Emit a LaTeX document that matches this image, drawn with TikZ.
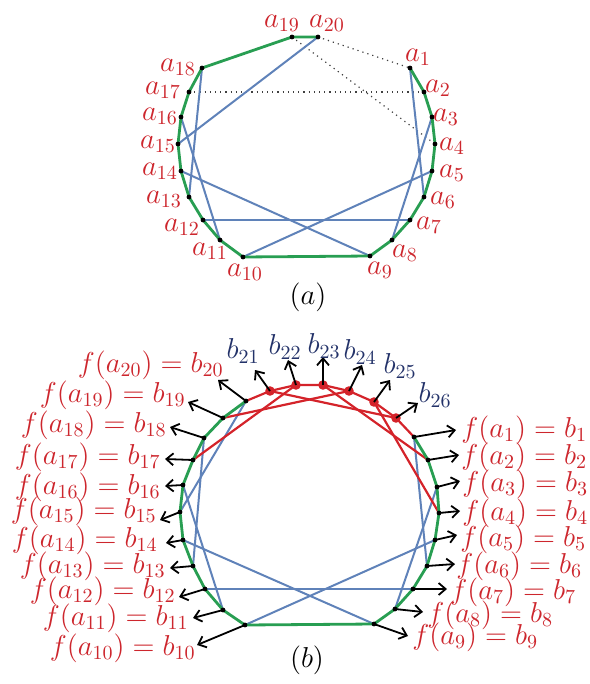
\documentclass[tikz,border=0pt]{standalone}
\usepackage{amsmath,amssymb}
\usepackage{xcolor}
\usetikzlibrary{arrows.meta,calc}

\definecolor{labred}{RGB}{205,38,45}
\definecolor{labblue}{RGB}{35,50,105}
\definecolor{ringgreen}{RGB}{40,158,82}
\definecolor{chordblue}{RGB}{95,130,185}
\definecolor{newred}{RGB}{212,35,42}

\begin{document}
\begin{tikzpicture}[x=0.5pt,y=-0.5pt,
  greenring/.style={ringgreen,line width=1.4pt},
  bluechord/.style={chordblue,line width=1pt},
  redchord/.style={newred,line width=1.1pt},
  dotchord/.style={black!75,dotted,line width=0.6pt},
  maparrow/.style={-{Straight Barb[length=3.5pt,width=6pt]},line width=0.9pt},
  alab/.style={text=labred,font=\fontsize{14}{16}\selectfont,inner sep=0pt},
  blab/.style={text=labblue,font=\fontsize{14}{16}\selectfont,inner sep=0pt}]
\useasboundingbox (0,0) rectangle (589,684);

% (a) the ring a_1 ... a_20
\coordinate (a1) at (410,68);
\coordinate (a2) at (424,92);
\coordinate (a3) at (432,117);
\coordinate (a4) at (435,144);
\coordinate (a5) at (432,171);
\coordinate (a6) at (424,197);
\coordinate (a7) at (410,220);
\coordinate (a8) at (392,240);
\coordinate (a9) at (370,256);
\coordinate (a10) at (243,257);
\coordinate (a11) at (220,240);
\coordinate (a12) at (203,220);
\coordinate (a13) at (189,197);
\coordinate (a14) at (181,171);
\coordinate (a15) at (178,144);
\coordinate (a16) at (181,117);
\coordinate (a17) at (189,92);
\coordinate (a18) at (202,68);
\coordinate (a19) at (292,37);
\coordinate (a20) at (318,37);

\draw[dotchord] (a20) -- (a1);
\draw[dotchord] (a19) -- (a4);
\draw[dotchord] (a17) -- (a2);
\foreach \i/\j in {1/6,3/8,5/10,7/12,9/14,11/16,13/18,15/20}
  \draw[bluechord] (a\i) -- (a\j);
\draw[greenring] (a1) \foreach \i in {2,...,20} {-- (a\i)};
\foreach \i in {1,...,20} \fill (a\i) circle (1.2pt);

\node[alab] (la1) at (418,57) {$a_{1}$};
\node[alab] (la2) at (438,88) {$a_{2}$};
\node[alab] (la3) at (446,117) {$a_{3}$};
\node[alab] (la4) at (452,146) {$a_{4}$};
\node[alab] (la5) at (452,173) {$a_{5}$};
\node[alab] (la6) at (443,200) {$a_{6}$};
\node[alab] (la7) at (429,225) {$a_{7}$};
\node[alab] (la8) at (405,253) {$a_{8}$};
\node[alab] (la9) at (380,270) {$a_{9}$};
\node[alab] (la10) at (245,272) {$a_{10}$};
\node[alab] (la11) at (210,251) {$a_{11}$};
\node[alab] (la12) at (182,227) {$a_{12}$};
\node[alab] (la13) at (164,199) {$a_{13}$};
\node[alab] (la14) at (160,171) {$a_{14}$};
\node[alab] (la15) at (158,144) {$a_{15}$};
\node[alab] (la16) at (160,116) {$a_{16}$};
\node[alab] (la17) at (163,90) {$a_{17}$};
\node[alab] (la18) at (178,67) {$a_{18}$};
\node[alab] (la19) at (282,23) {$a_{19}$};
\node[alab] (la20) at (327,23) {$a_{20}$};
\node[font=\fontsize{14}{16}\selectfont] (capa) at (308,297) {$(a)$};

% (b) the ring b_1 ... b_26
\coordinate (b1) at (414,437);
\coordinate (b2) at (428,460);
\coordinate (b3) at (437,487);
\coordinate (b4) at (439,513);
\coordinate (b5) at (435,540);
\coordinate (b6) at (427,566);
\coordinate (b7) at (413,589);
\coordinate (b8) at (395,609);
\coordinate (b9) at (374,624);
\coordinate (b10) at (245,625);
\coordinate (b11) at (223,610);
\coordinate (b12) at (205,589);
\coordinate (b13) at (193,566);
\coordinate (b14) at (183,540);
\coordinate (b15) at (180,512);
\coordinate (b16) at (183,485);
\coordinate (b17) at (193,460);
\coordinate (b18) at (204,438);
\coordinate (b19) at (223,418);
\coordinate (b20) at (246,401);
\coordinate (b21) at (270,391);
\coordinate (b22) at (296,385);
\coordinate (b23) at (323,385);
\coordinate (b24) at (349,391);
\coordinate (b25) at (374,402);
\coordinate (b26) at (396,418);

\foreach \i/\j in {1/6,3/8,5/10,7/12,9/14,11/16,13/18,15/20}
  \draw[bluechord] (b\i) -- (b\j);
\foreach \i/\j in {17/22,19/24,21/26,23/2,25/4}
  \draw[redchord] (b\i) -- (b\j);
\draw[redchord] (b20) \foreach \i in {21,...,26} {-- (b\i)} -- (b1);
\draw[greenring] (b1) \foreach \i in {2,...,20} {-- (b\i)};
\foreach \i in {1,...,20} \fill (b\i) circle (1.2pt);
\foreach \i in {21,...,26} \fill[newred] (b\i) circle (2.4pt);

% arrow tips
\coordinate (t1) at (456,430);
\coordinate (t2) at (459,455);
\coordinate (t3) at (460,481);
\coordinate (t4) at (460,511);
\coordinate (t5) at (457,535);
\coordinate (t6) at (455,564);
\coordinate (t7) at (447,589);
\coordinate (t8) at (423,612);
\coordinate (t9) at (408,636);
\coordinate (t10) at (197,645);
\coordinate (t11) at (193,618);
\coordinate (t12) at (179,597);
\coordinate (t13) at (170,568);
\coordinate (t14) at (166,543);
\coordinate (t15) at (160,520);
\coordinate (t16) at (165,486);
\coordinate (t17) at (165,459);
\coordinate (t18) at (170,427);
\coordinate (t19) at (188,402);
\coordinate (t20) at (218,380);
\coordinate (t21) at (255,370);
\coordinate (t22) at (288,360);
\coordinate (t23) at (323,357);
\coordinate (t24) at (362,365);
\coordinate (t25) at (390,380);
\coordinate (t26) at (418,403);
\foreach \i in {1,...,26} \draw[maparrow] (b\i) -- (t\i);

\node[alab,anchor=west] (f1) at (461,430) {$f(a_{1}) = b_{1}$};
\node[alab,anchor=west] (f2) at (461,457) {$f(a_{2}) = b_{2}$};
\node[alab,anchor=west] (f3) at (462,484) {$f(a_{3}) = b_{3}$};
\node[alab,anchor=west] (f4) at (462,513) {$f(a_{4}) = b_{4}$};
\node[alab,anchor=west] (f5) at (460,539) {$f(a_{5}) = b_{5}$};
\node[alab,anchor=west] (f6) at (456,566) {$f(a_{6}) = b_{6}$};
\node[alab,anchor=west] (f7) at (450,592) {$f(a_{7}) = b_{7}$};
\node[alab,anchor=west] (f8) at (427,615) {$f(a_{8}) = b_{8}$};
\node[alab,anchor=west] (f9) at (412,637) {$f(a_{9}) = b_{9}$};
\node[alab,anchor=east] (f10) at (196,648) {$f(a_{10}) = b_{10}$};
\node[alab,anchor=east] (f11) at (189,618) {$f(a_{11}) = b_{11}$};
\node[alab,anchor=east] (f12) at (176,591) {$f(a_{12}) = b_{12}$};
\node[alab,anchor=east] (f13) at (166,566) {$f(a_{13}) = b_{13}$};
\node[alab,anchor=east] (f14) at (158,540) {$f(a_{14}) = b_{14}$};
\node[alab,anchor=east] (f15) at (157,511) {$f(a_{15}) = b_{15}$};
\node[alab,anchor=east] (f16) at (161,487) {$f(a_{16}) = b_{16}$};
\node[alab,anchor=east] (f17) at (161,457) {$f(a_{17}) = b_{17}$};
\node[alab,anchor=east] (f18) at (167,425) {$f(a_{18}) = b_{18}$};
\node[alab,anchor=east] (f19) at (186,395) {$f(a_{19}) = b_{19}$};
\node[alab,anchor=east] (f20) at (224,365) {$f(a_{20}) = b_{20}$};
\node[blab] (l21) at (243,351) {$b_{21}$};
\node[blab] (l22) at (285,347) {$b_{22}$};
\node[blab] (l23) at (324,346) {$b_{23}$};
\node[blab] (l24) at (360,352) {$b_{24}$};
\node[blab] (l25) at (400,366) {$b_{25}$};
\node[blab] (l26) at (435,395) {$b_{26}$};
\node[font=\fontsize{14}{16}\selectfont] (capb) at (307,660) {$(b)$};
\end{tikzpicture}
\end{document}
